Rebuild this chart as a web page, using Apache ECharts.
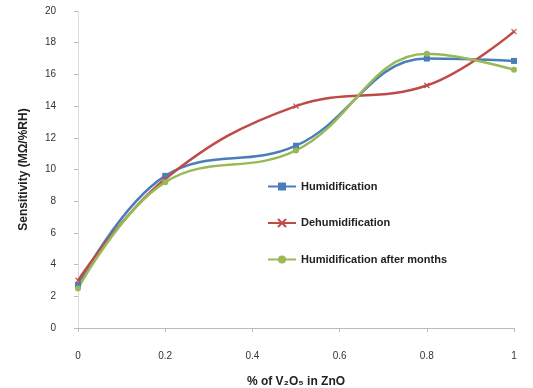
<!DOCTYPE html>
<html><head><meta charset="utf-8">
<script src="https://cdn.jsdelivr.net/npm/echarts@6/dist/echarts.min.js"></script>
<style>html,body{margin:0;padding:0;background:#fff}#c{width:533px;height:388px}</style>
</head><body><div id="c"></div>
<script>
const xValues = [0, 0.2, 0.5, 0.8, 1.0];
const humidification = [2.7, 9.6, 11.5, 17.0, 16.85];
const dehumidification = [3.0, 9.4, 14.0, 15.3, 18.7];
const humidAfterMonths = [2.5, 9.2, 11.2, 17.3, 16.3];
const seriesNames = ['Humidification', 'Dehumidification', 'Humidification after months'];
const xTicks = [0, 0.2, 0.4, 0.6, 0.8, 1];
const yTicks = [0, 2, 4, 6, 8, 10, 12, 14, 16, 18, 20];

const pair = arr => xValues.map((x, i) => [x, arr[i]]);
const font = 'Liberation Sans, Arial, sans-serif';
const chart = echarts.init(document.getElementById('c'));
chart.setOption({
  animation: false,
  grid: { left: 78, right: 19, top: 11, bottom: 60, containLabel: false, outerBoundsMode: 'none' },
  legend: {
    orient: 'vertical', left: 262, top: 176, itemGap: 25.5, itemWidth: 28, itemHeight: 10,
    textStyle: { fontFamily: font, fontSize: 11, fontWeight: 'bold', color: '#222' },
    data: seriesNames
  },
  xAxis: {
    type: 'value', min: 0, max: 1, interval: 0.2,
    name: '% of V\u2082O\u2085 in ZnO', nameLocation: 'middle', nameGap: 48,
    nameTextStyle: { fontFamily: font, fontSize: 12, fontWeight: 'bold', color: '#222' },
    axisLine: { lineStyle: { color: '#bbb' } },
    axisTick: { show: true, length: 4, lineStyle: { color: '#bbb' } },
    axisLabel: { fontFamily: font, fontSize: 10, color: '#333', margin: 23,
      formatter: v => xTicks.includes(+v.toFixed(1)) ? String(+v.toFixed(1)) : '' },
    splitLine: { show: false }
  },
  yAxis: {
    type: 'value', min: 0, max: 20, interval: 2,
    name: 'Sensitivity (M\u03a9/%RH)', nameLocation: 'middle', nameGap: 48,
    nameTextStyle: { fontFamily: font, fontSize: 12, fontWeight: 'bold', color: '#222' },
    axisLine: { show: true, lineStyle: { color: '#ddd' } },
    axisTick: { show: true, length: 4, lineStyle: { color: '#bbb' } },
    axisLabel: { fontFamily: font, fontSize: 10, color: '#333', margin: 22,
      formatter: v => yTicks.includes(v) ? String(v) : '' },
    splitLine: { show: false }
  },
  series: [
    { name: seriesNames[0], type: 'line', smooth: 0.4, data: pair(humidification),
      symbol: 'rect', symbolSize: 6, color: '#4a7ebb', lineStyle: { width: 2.5 } },
    { name: seriesNames[1], type: 'line', smooth: 0.4, data: pair(dehumidification),
      symbol: 'path://M0,0L10,10M10,0L0,10', symbolSize: 5, color: '#be4b48',
      itemStyle: { borderColor: '#be4b48', borderWidth: 1.2 }, lineStyle: { width: 2.5 } },
    { name: seriesNames[2], type: 'line', smooth: 0.4, data: pair(humidAfterMonths),
      symbol: 'circle', symbolSize: 6, color: '#98b954', lineStyle: { width: 2.5 } }
  ]
});
</script></body></html>
